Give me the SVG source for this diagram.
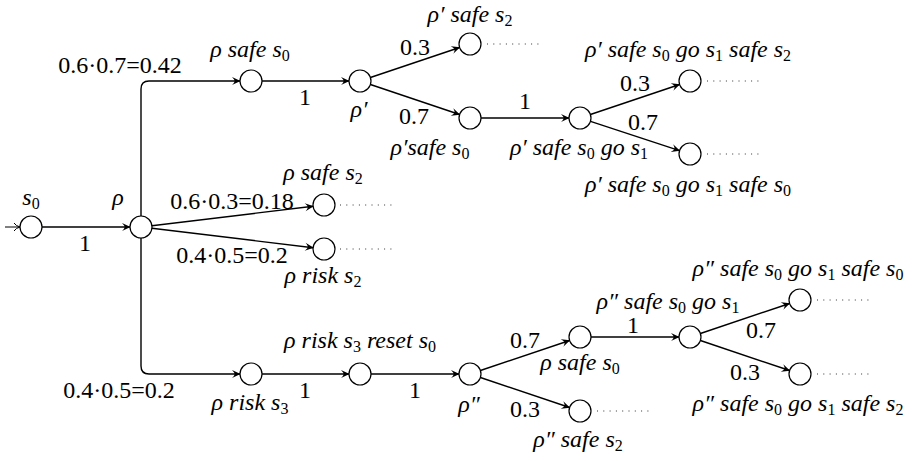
<svg xmlns="http://www.w3.org/2000/svg" width="923" height="461" viewBox="0 0 923 461" font-family="Liberation Serif, Times New Roman, serif">
<defs>
<style>
.nd{fill:#fff;stroke:#000;stroke-width:1.2}
.e{fill:none;stroke:#000;stroke-width:1.4;marker-end:url(#arr)}
.dt{fill:none;stroke:#333;stroke-width:1;stroke-dasharray:1 5.3}
text{font-size:24px;fill:#000;text-anchor:middle}
.m{font-style:italic}
.s{font-style:normal;font-size:16px}
</style>
<marker id="arr" viewBox="-9 -5 10 10" refX="0" refY="0" markerWidth="10" markerHeight="10" markerUnits="userSpaceOnUse" orient="auto">
<path d="M0.5,0 L-8,-4 Q-5,-1 -5.5,0 Q-5,1 -8,4 Z" fill="#000"/>
</marker>
<marker id="arr2" viewBox="-9 -5 10 10" refX="0" refY="0" markerWidth="10" markerHeight="10" markerUnits="userSpaceOnUse" orient="auto">
<path d="M-6,-4 Q-4,-1 0,0 Q-4,1 -6,4" fill="none" stroke="#000" stroke-width="1"/>
</marker>
</defs>
<rect width="923" height="461" fill="#fff"/>
<g id="connectors">
<line x1="5" y1="227" x2="20" y2="227" stroke="#000" stroke-width="1" marker-end="url(#arr2)"/>
<line class="e" x1="42" y1="227" x2="130" y2="227"/>
<path class="e" d="M141,216 V89 Q141,81 149,81 H240"/>
<line class="e" x1="262" y1="81" x2="349" y2="81"/>
<line class="e" x1="370.4" y1="77.5" x2="459.6" y2="47.5"/>
<line class="e" x1="370.4" y1="84.5" x2="459.6" y2="114.5"/>
<line class="e" x1="481" y1="118" x2="569" y2="118"/>
<line class="e" x1="590.4" y1="114.5" x2="679.6" y2="84.5"/>
<line class="e" x1="590.5" y1="121.4" x2="679.5" y2="150.6"/>
<line class="e" x1="151.9" y1="225.7" x2="313.1" y2="206.3"/>
<line class="e" x1="151.9" y1="228.3" x2="313.1" y2="247.7"/>
<path class="e" d="M141,238 V366 Q141,374 149,374 H240"/>
<line class="e" x1="262" y1="374" x2="349" y2="374"/>
<line class="e" x1="371" y1="374" x2="459" y2="374"/>
<line class="e" x1="480.4" y1="370.5" x2="569.6" y2="340.5"/>
<line class="e" x1="480.4" y1="377.5" x2="569.6" y2="407.5"/>
<line class="e" x1="591" y1="337" x2="679" y2="337"/>
<line class="e" x1="700.4" y1="333.5" x2="789.6" y2="303.5"/>
<line class="e" x1="700.4" y1="340.5" x2="789.6" y2="370.5"/>
<line class="dt" x1="487" y1="44" x2="540" y2="44"/>
<line class="dt" x1="707" y1="81" x2="760" y2="81"/>
<line class="dt" x1="707" y1="154" x2="760" y2="154"/>
<line class="dt" x1="340" y1="205" x2="393" y2="205"/>
<line class="dt" x1="340" y1="249" x2="393" y2="249"/>
<line class="dt" x1="597" y1="411" x2="650" y2="411"/>
<line class="dt" x1="817" y1="300" x2="870" y2="300"/>
<line class="dt" x1="817" y1="374" x2="870" y2="374"/>
<text x="85" y="251">1</text>
<text x="120" y="73">0.6·0.7=0.42</text>
<text x="305" y="105">1</text>
<text x="415" y="55">0.3</text>
<text x="414" y="124">0.7</text>
<text x="525" y="109">1</text>
<text x="635" y="91">0.3</text>
<text x="643" y="130">0.7</text>
<text x="232" y="209">0.6·0.3=0.18</text>
<text x="232" y="263">0.4·0.5=0.2</text>
<text x="119" y="398">0.4·0.5=0.2</text>
<text x="305" y="398">1</text>
<text x="415" y="398">1</text>
<text x="525" y="348">0.7</text>
<text x="525" y="417">0.3</text>
<text x="633" y="333">1</text>
<text x="761" y="338">0.7</text>
<text x="745" y="380">0.3</text>
</g>
<g id="n-s0"><circle class="nd" cx="31" cy="227" r="11"/><text class="m" x="31" y="205">s<tspan class="s" dy="4">0</tspan></text></g>
<g id="n-rho"><circle class="nd" cx="141" cy="227" r="11"/><text class="m" x="118" y="205">ρ</text></g>
<g id="n-A"><circle class="nd" cx="251" cy="81" r="11"/><text class="m" x="250" y="57">ρ safe s<tspan class="s" dy="4">0</tspan></text></g>
<g id="n-B"><circle class="nd" cx="360" cy="81" r="11"/><text class="m" x="359" y="117">ρ′</text></g>
<g id="n-C"><circle class="nd" cx="470" cy="44" r="11"/><text class="m" x="470" y="22">ρ′ safe s<tspan class="s" dy="4">2</tspan></text></g>
<g id="n-D"><circle class="nd" cx="470" cy="118" r="11"/><text class="m" x="430" y="155">ρ′safe s<tspan class="s" dy="4">0</tspan></text></g>
<g id="n-E"><circle class="nd" cx="580" cy="118" r="11"/><text class="m" x="579" y="155">ρ′ safe s<tspan class="s" dy="4">0</tspan><tspan dy="-4"> go s</tspan><tspan class="s" dy="4">1</tspan></text></g>
<g id="n-F"><circle class="nd" cx="690" cy="81" r="11"/><text class="m" x="688" y="57">ρ′ safe s<tspan class="s" dy="4">0</tspan><tspan dy="-4"> go s</tspan><tspan class="s" dy="4">1</tspan><tspan dy="-4"> safe s</tspan><tspan class="s" dy="4">2</tspan></text></g>
<g id="n-G"><circle class="nd" cx="690" cy="154" r="11"/><text class="m" x="688" y="192">ρ′ safe s<tspan class="s" dy="4">0</tspan><tspan dy="-4"> go s</tspan><tspan class="s" dy="4">1</tspan><tspan dy="-4"> safe s</tspan><tspan class="s" dy="4">0</tspan></text></g>
<g id="n-H"><circle class="nd" cx="324" cy="205" r="11"/><text class="m" x="323" y="180">ρ safe s<tspan class="s" dy="4">2</tspan></text></g>
<g id="n-I"><circle class="nd" cx="324" cy="249" r="11"/><text class="m" x="323" y="283">ρ risk s<tspan class="s" dy="4">2</tspan></text></g>
<g id="n-J"><circle class="nd" cx="251" cy="374" r="11"/><text class="m" x="250" y="410">ρ risk s<tspan class="s" dy="4">3</tspan></text></g>
<g id="n-K"><circle class="nd" cx="360" cy="374" r="11"/><text class="m" x="360" y="348">ρ risk s<tspan class="s" dy="4">3</tspan><tspan dy="-4"> reset s</tspan><tspan class="s" dy="4">0</tspan></text></g>
<g id="n-L"><circle class="nd" cx="470" cy="374" r="11"/><text class="m" x="469" y="412">ρ″</text></g>
<g id="n-M"><circle class="nd" cx="580" cy="337" r="11"/><text class="m" x="580" y="370">ρ safe s<tspan class="s" dy="4">0</tspan></text></g>
<g id="n-N"><circle class="nd" cx="580" cy="411" r="11"/><text class="m" x="578" y="447">ρ″ safe s<tspan class="s" dy="4">2</tspan></text></g>
<g id="n-O"><circle class="nd" cx="690" cy="337" r="11"/><text class="m" x="668" y="309">ρ″ safe s<tspan class="s" dy="4">0</tspan><tspan dy="-4"> go s</tspan><tspan class="s" dy="4">1</tspan></text></g>
<g id="n-P"><circle class="nd" cx="800" cy="300" r="11"/><text class="m" x="798" y="276">ρ″ safe s<tspan class="s" dy="4">0</tspan><tspan dy="-4"> go s</tspan><tspan class="s" dy="4">1</tspan><tspan dy="-4"> safe s</tspan><tspan class="s" dy="4">0</tspan></text></g>
<g id="n-Q"><circle class="nd" cx="800" cy="374" r="11"/><text class="m" x="798" y="411">ρ″ safe s<tspan class="s" dy="4">0</tspan><tspan dy="-4"> go s</tspan><tspan class="s" dy="4">1</tspan><tspan dy="-4"> safe s</tspan><tspan class="s" dy="4">2</tspan></text></g>
</svg>
